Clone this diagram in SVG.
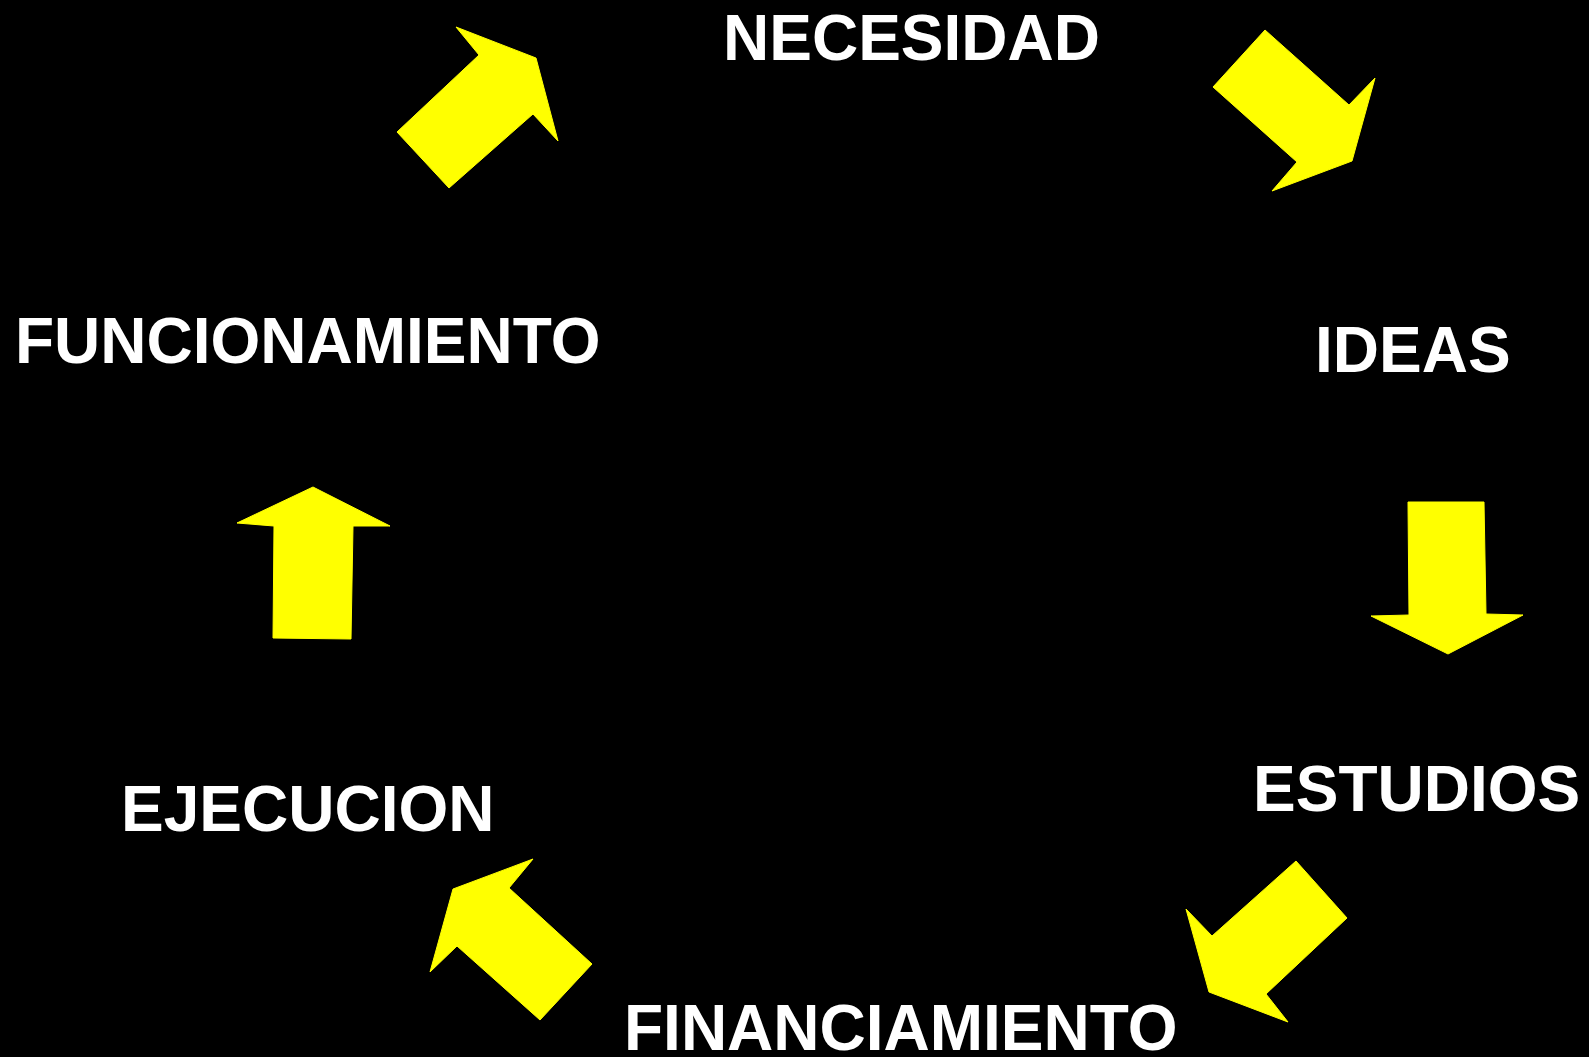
<svg xmlns="http://www.w3.org/2000/svg" width="1589" height="1057" viewBox="0 0 1589 1057">
<style>
.lbl{font-family:"Liberation Sans",Arial,sans-serif;font-weight:bold;font-size:64px;fill:#ffffff}
.arr{fill:#ffff00;stroke:#ffff00;stroke-width:1;stroke-linejoin:miter}
</style>
<rect x="0" y="0" width="1589" height="1057" fill="#000000"/>
<g id="connectors">
<polygon class="arr" points="397,132 479,55 456,27 536,58 558,141 533,114 449,188"/>
<polygon class="arr" points="1265,30 1349,105 1375,78 1352,161 1272,191 1297,162 1213,87"/>
<polygon class="arr" points="1408,502 1484,502 1486,614 1523,615 1448,654 1371,616 1409,615"/>
<polygon class="arr" points="1296,861 1347,918 1266,994 1288,1022 1209,992 1186,909 1212,936"/>
<polygon class="arr" points="533,859 509,888 592,964 540,1020 457,946 430,972 453,889"/>
<polygon class="arr" points="313,487 390,526 353,526 351,639 273,638 274,526 237,523"/>
</g>
<g id="necesidad"><text class="lbl" x="723" y="60">NECESIDAD</text></g>
<g id="ideas"><text class="lbl" x="1315" y="372">IDEAS</text></g>
<g id="estudios"><text class="lbl" x="1253" y="811">ESTUDIOS</text></g>
<g id="financiamiento"><text class="lbl" x="624" y="1050">FINANCIAMIENTO</text></g>
<g id="ejecucion"><text class="lbl" x="121" y="831">EJECUCION</text></g>
<g id="funcionamiento"><text class="lbl" x="15" y="363">FUNCIONAMIENTO</text></g>
</svg>
